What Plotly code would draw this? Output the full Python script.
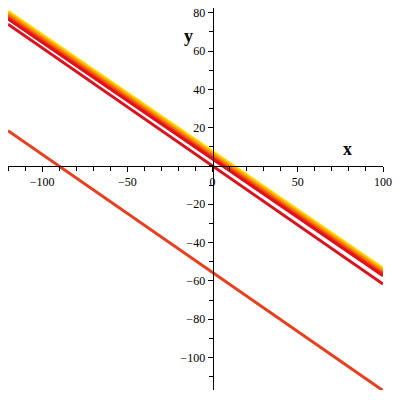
import plotly.graph_objects as go

# x end points of every line
x_ends = [-120, 100]

# family of lines y = slope * x + intercept
band_slope = -0.61
band_intercepts = [3.6, 4.4, 5.2, 6.0, 6.8, 7.6]
band_colors = ["#E0101C", "#EE3A14", "#F6660C", "#FB9208", "#FDBA04", "#FFDE00"]

single_slope = -0.617
single_intercepts = [0.0, -55.6]
single_colors = ["#D8141E", "#E8401C"]

x_range = [-120, 100]
y_range = [-117, 82.5]

fig = go.Figure()

for c, col in zip(band_intercepts[::-1], band_colors[::-1]):
    fig.add_trace(go.Scatter(
        x=x_ends, y=[band_slope * x + c for x in x_ends],
        mode="lines", line=dict(color=col, width=3)
    ))

for c, col in zip(single_intercepts, single_colors):
    fig.add_trace(go.Scatter(
        x=x_ends, y=[single_slope * x + c for x in x_ends],
        mode="lines", line=dict(color=col, width=3)
    ))

# axes crossing at the origin
xpos = (0 - y_range[0]) / (y_range[1] - y_range[0])
ypos = (0 - x_range[0]) / (x_range[1] - x_range[0])

tick_font = dict(family="Liberation Serif", size=12, color="black")

fig.update_layout(
    width=400, height=400,
    margin=dict(l=8, r=17, t=8, b=10),
    plot_bgcolor="white", paper_bgcolor="white",
    showlegend=False,
    xaxis=dict(
        range=x_range, anchor="free", position=xpos, automargin=False,
        showgrid=False, zeroline=False,
        showline=True, linecolor="black", linewidth=1,
        tickmode="array", tickvals=[-100, -50, 0, 50, 100],
        ticktext=["\u2212100", "\u221250", "0", "50", "100"],
        ticks="outside", ticklen=5, tickcolor="black",
        minor=dict(dtick=10, ticks="outside", ticklen=4, tickcolor="black"),
        tickfont=tick_font, ticklabeloverflow="allow",
    ),
    yaxis=dict(
        range=y_range, anchor="free", position=ypos, automargin=False,
        showgrid=False, zeroline=False,
        showline=True, linecolor="black", linewidth=1,
        tickmode="array", tickvals=[80, 60, 40, 20, -20, -40, -60, -80, -100],
        ticktext=["80", "60", "40", "20", "\u221220", "\u221240", "\u221260", "\u221280", "\u2212100"],
        ticks="outside", ticklen=5, tickcolor="black",
        minor=dict(dtick=10, ticks="outside", ticklen=4, tickcolor="black"),
        tickfont=tick_font, ticklabeloverflow="allow",
    ),
    annotations=[
        dict(text="<b>x</b>", x=79, y=9, xref="x", yref="y", showarrow=False,
             font=dict(family="Liberation Serif", size=18, color="black")),
        dict(text="<b>y</b>", x=-14, y=68, xref="x", yref="y", showarrow=False,
             font=dict(family="Liberation Serif", size=18, color="black")),
    ],
)

# drop the default body margin so the figure sits at the page corner
fig.write_html("out.html", config=dict(displayModeBar=False),
               post_script="document.body.style.margin='0';")
